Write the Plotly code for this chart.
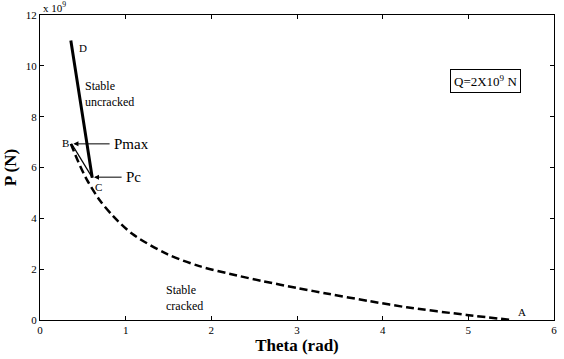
import plotly.graph_objects as go

# Cracked branch (dashed), P in units of 1e9 N
theta_cracked = [0.36, 0.45, 0.55, 0.70, 0.85, 1.08, 1.48, 1.86, 2.30, 2.60, 3.00, 3.38, 3.85, 4.28, 4.98, 5.51]
p_cracked = [6.93, 6.20, 5.50, 4.70, 4.10, 3.38, 2.60, 2.12, 1.75, 1.53, 1.26, 1.02, 0.74, 0.50, 0.20, 0.00]

# Uncracked branch (solid) D -> C
theta_uncracked = [0.36, 0.61]
p_uncracked = [11.0, 5.6]

# B -> C segment
theta_bc = [0.37, 0.61]
p_bc = [6.93, 5.6]

FONT = "Times New Roman, Liberation Serif, serif"

fig = go.Figure()
fig.add_trace(go.Scatter(x=theta_cracked, y=p_cracked, mode="lines",
                         line=dict(color="black", width=2.5, dash="8px,4px", shape="spline", smoothing=0.8),
                         showlegend=False))
fig.add_trace(go.Scatter(x=theta_bc, y=p_bc, mode="lines",
                         line=dict(color="black", width=1.2),
                         showlegend=False))
fig.add_trace(go.Scatter(x=theta_uncracked, y=p_uncracked, mode="lines",
                         line=dict(color="black", width=3),
                         showlegend=False))

ann = []
def txt(x, y, s, size=11, xanchor="left", **kw):
    ann.append(dict(x=x, y=y, xref="x", yref="y", text=s, showarrow=False,
                    font=dict(family=FONT, size=size, color="black"),
                    xanchor=xanchor, yanchor="middle", **kw))

txt(0.43, 10.7, "D", 11)
txt(0.50, 8.9, "Stable<br>uncracked", 12, align="left")
txt(0.36, 6.95, "B", 11, xanchor="right")
txt(0.62, 5.25, "C", 11)
txt(1.45, 0.85, "Stable<br>cracked", 12, align="left")
txt(5.56, 0.3, "A", 11)

# arrows
ann.append(dict(x=0.39, y=6.93, ax=0.83, ay=6.93, xref="x", yref="y", axref="x", ayref="y",
                showarrow=True, arrowhead=2, arrowsize=1, arrowwidth=1, arrowcolor="black", text=""))
txt(0.84, 6.93, "Pmax", 15)
ann.append(dict(x=0.63, y=5.62, ax=0.97, ay=5.62, xref="x", yref="y", axref="x", ayref="y",
                showarrow=True, arrowhead=2, arrowsize=1, arrowwidth=1, arrowcolor="black", text=""))
txt(0.98, 5.62, "Pc", 15)

ann.append(dict(x=5.2, y=9.4, xref="x", yref="y", text="Q=2X10<sup>9</sup> N", showarrow=False,
                font=dict(family=FONT, size=13, color="black"), bordercolor="black",
                borderwidth=1, borderpad=3, bgcolor="white"))
ann.append(dict(x=0, y=1, xref="paper", yref="paper", text="x 10<sup>9</sup>", showarrow=False,
                font=dict(family=FONT, size=11, color="black"), xanchor="left", yanchor="bottom",
                xshift=1, yshift=-1))

fig.update_layout(
    width=564, height=359,
    margin=dict(l=40, r=7, t=15, b=39),
    paper_bgcolor="white", plot_bgcolor="white",
    font=dict(family=FONT, size=11, color="black"),
    annotations=ann,
    showlegend=False,
)
axis_common = dict(showgrid=False, zeroline=False, showline=True, linecolor="black", linewidth=1,
                   mirror="ticks", ticks="inside", ticklen=4, tickcolor="black",
                   tickfont=dict(family=FONT, size=11, color="black"))
fig.update_xaxes(range=[0, 6], dtick=1, title=dict(text="<b>Theta (rad)</b>", font=dict(family=FONT, size=17), standoff=2),
                 **axis_common)
fig.update_yaxes(range=[0, 12], dtick=2, title=dict(text="<b>P (N)</b>", font=dict(family=FONT, size=17), standoff=4),
                 **axis_common)

fig.write_html("out.html")
